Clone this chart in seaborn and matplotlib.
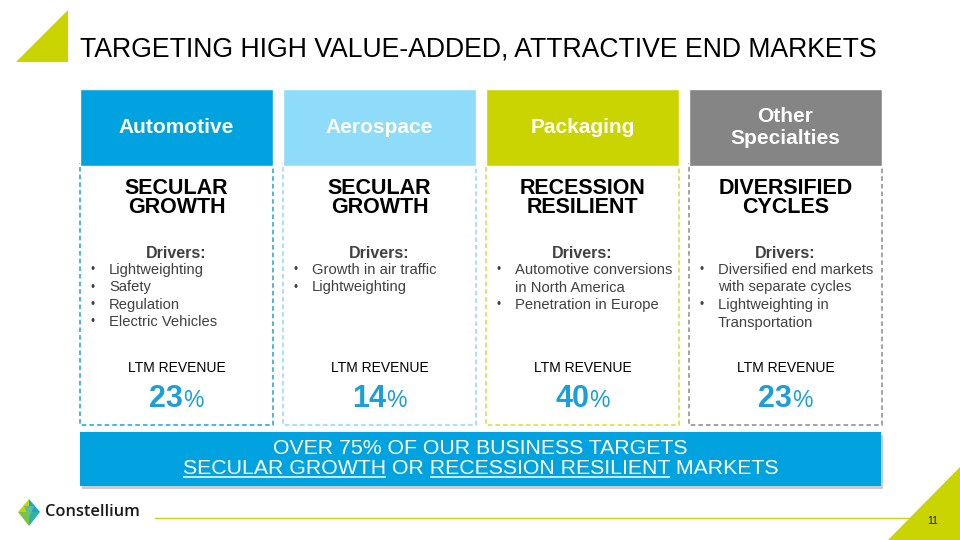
import matplotlib
matplotlib.use("Agg")
import matplotlib.pyplot as plt
import matplotlib.patches as mpatches
import seaborn as sns

# Slide content
title = "TARGETING HIGH VALUE-ADDED, ATTRACTIVE END MARKETS"
segments = ["Automotive", "Aerospace", "Packaging", "Other\nSpecialties"]
segment_colors = ["#00a3e0", "#8edcfa", "#c9d400", "#858585"]
border_colors = ["#1ba1e2", "#8fd8f5", "#d6dc3c", "#8a8a8a"]
themes = ["SECULAR\nGROWTH", "SECULAR\nGROWTH", "RECESSION\nRESILIENT", "DIVERSIFIED\nCYCLES"]
drivers = [
    ["Lightweighting", "Safety", "Regulation", "Electric Vehicles"],
    ["Growth in air traffic", "Lightweighting"],
    ["Automotive conversions\nin North America", "Penetration in Europe"],
    ["Diversified end markets\nwith separate cycles", "Lightweighting in\nTransportation"],
]
ltm_revenue = [23, 14, 40, 23]
banner_line1 = "OVER 75% OF OUR BUSINESS TARGETS"
banner_parts = ["SECULAR GROWTH", " OR ", "RECESSION RESILIENT", " MARKETS"]
page_no = "11"

LIME = "#c9d400"
BLUE = "#00a3e0"
PCT_BLUE = "#1a9fdb"
DARK = "#404040"

sns.set_style("white")
plt.rcParams["font.family"] = ["Liberation Sans", "DejaVu Sans"]

fig = plt.figure(figsize=(9.6, 5.4), dpi=100)
ax = fig.add_axes([0, 0, 1, 1])
ax.set_xlim(0, 960)
ax.set_ylim(540, 0)
ax.axis("off")
fig.canvas.draw()
renderer = fig.canvas.get_renderer()


def text_w(s, **kw):
    t = ax.text(0, 0, s, **kw)
    w = t.get_window_extent(renderer).width
    t.remove()
    return w


# corner triangles
ax.add_patch(mpatches.Polygon([(16, 62), (68, 10), (68, 62)], closed=True, color=LIME, lw=0))
ax.add_patch(mpatches.Polygon([(888, 540), (960, 467), (960, 540)], closed=True, color=LIME, lw=0, zorder=3))

ax.text(80, 50, title, fontsize=19.2, va="center", ha="left", color="black")

# columns
pitch = 203
left0 = 75
col_w = 193
for i in range(4):
    x0 = left0 + pitch * i + 5
    cx = x0 + col_w / 2
    ax.add_patch(mpatches.Rectangle((x0, 163), col_w, 262, fill=False,
                                    ec=border_colors[i], lw=1.1, ls=(0, (3, 2))))
    ax.text(cx, 198, themes[i], ha="center", va="center", fontsize=15.5,
            fontweight="bold", color="black", linespacing=0.92)
    ax.text(cx, 253, "Drivers:", ha="center", va="center", fontsize=11.5,
            fontweight="bold", color=DARK)
    k = 0
    for item in drivers[i]:
        ax.text(x0 + 13, 270 + 17.5 * k, "\u2022", ha="center", va="center",
                fontsize=8.5, color=DARK)
        for line in item.split("\n"):
            ax.text(x0 + 29, 270 + 17.5 * k, line, ha="left", va="center",
                    fontsize=10.6, color=DARK)
            k += 1
    ax.text(cx, 368, "LTM REVENUE", ha="center", va="center", fontsize=10, color="black")
    num = str(ltm_revenue[i])
    wn = text_w(num, fontsize=22, fontweight="bold")
    wp = text_w("%", fontsize=16.5)
    xs = cx - (wn + wp) / 2
    ax.text(xs, 407, num, ha="left", va="baseline", fontsize=22, fontweight="bold", color=PCT_BLUE)
    ax.text(xs + wn, 407, "%", ha="left", va="baseline", fontsize=16.5, color=PCT_BLUE)

# header bars
hax = fig.add_axes([left0 / 960, (540 - 166) / 540, 4 * pitch / 960, 77 / 540])
sns.barplot(x=segments, y=[1] * len(segments), hue=segments, palette=segment_colors,
            width=col_w / pitch, saturation=1, legend=False, ax=hax)
hax.set_xlim(-0.5, 3.5)
hax.set_ylim(0, 1)
hax.axis("off")
for i, s in enumerate(segments):
    hax.text(i, 0.5, s, ha="center", va="center", fontsize=15, fontweight="bold",
             color="white", linespacing=1.15)

# banner
ax.add_patch(mpatches.Rectangle((82, 435), 801, 54, color="#9a9a9a", alpha=0.5, lw=0))
ax.add_patch(mpatches.Rectangle((80, 432), 801, 54, color=BLUE, lw=0))
bfs = 15.3
ax.text(480.5, 448, banner_line1, ha="center", va="center", fontsize=bfs, color="white")
full = "".join(banner_parts)
W = text_w(full, fontsize=bfs)
xl = 480.5 - W / 2
ax.text(xl, 474, full, ha="left", va="baseline", fontsize=bfs, color="white")
u1 = (xl, xl + text_w(banner_parts[0], fontsize=bfs))
u2 = (xl + W - text_w(banner_parts[2] + banner_parts[3], fontsize=bfs),
      xl + text_w("".join(banner_parts[:3]), fontsize=bfs))
for a, b in (u1, u2):
    ax.plot([a, b], [477, 477], color="white", lw=1.1, solid_capstyle="butt")

# footer
ax.plot([155, 960], [518, 518], color=LIME, lw=1.0)
ax.text(933, 521, page_no, ha="center", va="center", fontsize=7.5, color="#222222", zorder=4)
logo = [
    ([(29, 499), (18, 512), (29, 512)], "#c3d600"),
    ([(29, 499), (40, 512), (29, 512)], "#1ba1e2"),
    ([(18, 512), (29, 526), (29, 512)], "#7cc242"),
    ([(40, 512), (29, 526), (29, 512)], "#2bb3a4"),
    ([(24, 506), (34, 506), (29, 518)], "#5fbf8f"),
]
for pts, c in logo:
    ax.add_patch(mpatches.Polygon(pts, closed=True, color=c, lw=0))
ax.text(45, 512, "Constellium", ha="left", va="center", fontsize=11.8,
        family=["Open Sans", "DejaVu Sans"], fontweight="semibold", color="#1a1a1a")

fig.savefig("out.png", dpi=100)
